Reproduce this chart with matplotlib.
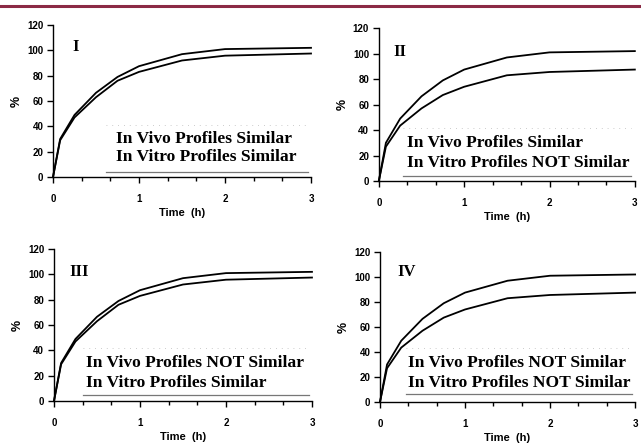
import matplotlib
matplotlib.use('agg')
import matplotlib.pyplot as plt
from matplotlib.lines import Line2D

# sampling times (h)
time_h = [0, 0.083, 0.25, 0.5, 0.75, 1.0, 1.5, 2.0, 3.0]
# upper curve, same in all panels
upper = [0, 30, 49, 66.5, 79, 87.5, 97, 101, 102]
# lower curve for the "similar" in vitro panels (I, III)
lower_similar = [0, 29, 47, 63, 76, 83, 92, 95.8, 97.5]
# lower curve for the "not similar" in vitro panels (II, IV)
lower_diff = [0, 27, 43.5, 57, 67.5, 74, 83, 85.6, 87.5]

panel_ids = ['I', 'II', 'III', 'IV']
panel_lines = [
    ('In Vivo Profiles Similar', 'In Vitro Profiles Similar'),
    ('In Vivo Profiles Similar', 'In Vitro Profiles NOT Similar'),
    ('In Vivo Profiles NOT Similar', 'In Vitro Profiles Similar'),
    ('In Vivo Profiles NOT Similar', 'In Vitro Profiles NOT Similar'),
]
lower_curves = [lower_similar, lower_diff, lower_similar, lower_diff]

# axes rectangles in figure fractions
rects = [
    [0.0827, 0.6005, 0.4025, 0.343],
    [0.591, 0.5914, 0.3994, 0.345],
    [0.0842, 0.0948, 0.4025, 0.343],
    [0.5928, 0.0926, 0.398, 0.3386],
]
# label placement per panel: (id x, id y, box left, text left, line1 y, line2 y, rule y)
layout = [
    (0.23, 103, 0.62, 0.735, 30.3, 15.8, 4.0),
    (0.17, 101.5, 0.285, 0.33, 30, 14.5, 4.3),
    (0.18, 102, 0.337, 0.368, 29.8, 14.3, 4.7),
    (0.21, 104, 0.306, 0.333, 30.8, 15.5, 6.2),
]

fig = plt.figure(figsize=(6.41, 4.43), dpi=100)

# dark red rule across the top
fig.add_artist(Line2D([0, 1], [1 - 5.5 / 443] * 2, color='#8b2a45', lw=2.2,
                      transform=fig.transFigure))

serif = ['Liberation Serif', 'DejaVu Serif']
sans = ['Liberation Sans', 'DejaVu Sans']

for i in range(4):
    ax = fig.add_axes(rects[i])
    ax.plot(time_h, upper, color='black', lw=1.3, clip_on=False)
    ax.plot(time_h, lower_curves[i], color='black', lw=1.3, clip_on=False)
    ax.set_xlim(0, 3)
    ax.set_ylim(0, 120)
    ax.set_xticks([0, 1, 2, 3])
    ax.set_xticks([1 / 3, 2 / 3, 4 / 3, 5 / 3, 7 / 3, 8 / 3], minor=True)
    ax.set_yticks(range(0, 121, 20))
    for s in ['top', 'right']:
        ax.spines[s].set_visible(False)
    for s in ['left', 'bottom']:
        ax.spines[s].set_linewidth(1.0)
    ax.tick_params(axis='both', which='major', direction='out', length=4,
                   width=1.0, labelsize=7, pad=3)
    ax.tick_params(axis='x', which='major', pad=8)
    ax.tick_params(axis='x', which='minor', direction='out', length=3, width=1.0)
    for lab in ax.get_xticklabels() + ax.get_yticklabels():
        lab.set_family(sans)
        lab.set_fontweight('bold')
    ax.set_xlabel('Time  (h)', fontsize=8, fontweight='bold', family=sans, labelpad=3)
    ax.set_ylabel('%', fontsize=9, fontweight='bold', family=sans, labelpad=3)

    idx, idy, box_l, txt_l, y1, y2, ry = layout[i]
    ax.text(idx, idy, panel_ids[i], family=serif, fontweight='bold', fontsize=12,
            ha='left', va='center')
    ax.text(txt_l, y1, panel_lines[i][0], family=serif, fontweight='bold',
            fontsize=12.6, ha='left', va='center')
    ax.text(txt_l, y2, panel_lines[i][1], family=serif, fontweight='bold',
            fontsize=12.6, ha='left', va='center')
    ax.plot([box_l, 2.96], [ry, ry], color='#777777', lw=0.9)
    ax.plot([box_l, 2.96], [ry + 37, ry + 37], color='#bbbbbb', lw=0.6, ls=(0, (1, 6)))

fig.savefig('out.png', dpi=100)
